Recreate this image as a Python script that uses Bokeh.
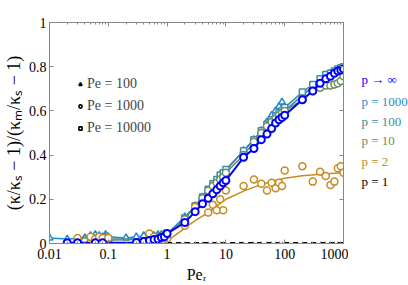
from bokeh.plotting import figure
from bokeh.layouts import row
from bokeh.models import (LogAxis, LinearAxis, Legend, LegendItem, LogTicker,
                          FixedTicker, CustomJSTickFormatter)
from bokeh.core.properties import value
from bokeh.embed import file_html
from bokeh.resources import INLINE

# ---- data ----
tri_x = [0.01, 0.02, 0.04, 0.05, 0.06, 0.07, 0.08, 0.09, 0.1,
         0.2, 0.3, 0.4, 0.5, 0.6, 0.7, 0.8, 0.9, 1,
         2, 3, 4, 5, 6, 7, 8, 9, 10,
         20, 30, 40, 50, 60, 70, 80, 90, 100,
         200, 300, 400, 500, 600, 700, 800, 900, 1000]
tri_y = [0.025, 0.02, 0.025, 0.035, 0.04, 0.035, 0.03, 0.04, 0.03,
         0.025, 0.03, 0.035, 0.03, 0.035, 0.04, 0.04, 0.045, 0.045,
         0.12, 0.17, 0.21, 0.24, 0.265, 0.285, 0.30, 0.315, 0.33,
         0.42, 0.47, 0.51, 0.55, 0.58, 0.60, 0.62, 0.64, 0.60,
         0.67, 0.71, 0.74, 0.76, 0.77, 0.78, 0.785, 0.79, 0.795]

sq_x = [0.04, 0.05, 0.06, 0.07, 0.08, 0.09, 0.1,
        0.5, 0.6, 0.7, 0.8, 0.9, 1,
        2, 3, 4, 5, 6, 7, 8, 9, 10,
        20, 30, 40, 50, 60, 70, 80, 90, 100,
        200, 300, 400, 500, 600, 700, 800, 900, 1000]
sq_y = [0.015, 0.02, 0.025, 0.02, 0.03, 0.02, 0.02,
        0.02, 0.025, 0.03, 0.03, 0.035, 0.04,
        0.115, 0.17, 0.21, 0.245, 0.27, 0.29, 0.31, 0.32, 0.335,
        0.42, 0.47, 0.51, 0.54, 0.56, 0.575, 0.59, 0.60, 0.615,
        0.685, 0.72, 0.745, 0.765, 0.77, 0.78, 0.79, 0.795, 0.80]

gr_x = [0.03, 0.04, 0.05, 0.06, 0.07, 0.08, 0.1,
        0.5, 0.6, 0.7, 0.8, 0.9, 1,
        2, 3, 4, 5, 6, 7, 8, 9, 10,
        20, 30, 40, 50, 60, 70, 80, 90, 100,
        200, 300, 400, 500, 600, 700, 800, 900, 1000]
gr_y = [0.01, 0.01, 0.005, 0.02, 0.01, 0.015, 0.015,
        0.02, 0.025, 0.03, 0.03, 0.035, 0.04,
        0.11, 0.17, 0.205, 0.24, 0.26, 0.275, 0.29, 0.30, 0.32,
        0.40, 0.46, 0.50, 0.53, 0.55, 0.565, 0.58, 0.59, 0.60,
        0.65, 0.69, 0.705, 0.715, 0.715, 0.72, 0.725, 0.735, 0.757]

or_x = [0.03, 0.05, 0.06, 0.07, 0.08, 0.1,
        0.5, 0.6, 0.7, 0.8, 0.9, 1,
        2, 3, 5, 6, 7, 8, 9, 10,
        20, 30, 40, 50, 60, 70, 80, 90, 100,
        200, 300, 400, 500, 600, 700, 800, 900, 1000]
or_y = [0.025, 0.03, 0.02, 0.03, 0.025, 0.025,
        0.045, 0.03, 0.01, 0.01, 0.015, 0.02,
        0.08, 0.165, 0.14, 0.175, 0.15, 0.2, 0.15, 0.24,
        0.26, 0.29, 0.27, 0.24, 0.275, 0.25, 0.275, 0.26, 0.33,
        0.35, 0.28, 0.325, 0.305, 0.265, 0.28, 0.34, 0.35, 0.32]

fit_x = [0.9, 1, 1.5, 2, 3, 5, 7, 10, 20, 30, 50, 100, 200, 500, 1000]
fit_y = [0.0, 0.012, 0.045, 0.07, 0.103, 0.14, 0.17, 0.2, 0.237, 0.255, 0.275,
         0.295, 0.307, 0.316, 0.32]

bl_x = [0.02, 0.03, 0.06, 0.08,
        0.3, 0.4, 0.5, 0.6, 0.7, 0.8, 0.9, 1,
        2, 3, 4, 5, 6, 7, 8, 9, 10,
        20, 30, 40, 50, 60, 70, 80, 90, 100,
        200, 300, 400, 500, 600, 700, 800, 900, 1000]
bl_y = [0.003, 0.003, 0.003, 0.003,
        0.005, 0.009, 0.014, 0.018, 0.02, 0.027, 0.03, 0.045,
        0.095, 0.144, 0.18, 0.205, 0.225, 0.243, 0.26, 0.275, 0.285,
        0.39, 0.43, 0.47, 0.495, 0.52, 0.545, 0.56, 0.57, 0.58,
        0.65, 0.69, 0.725, 0.745, 0.757, 0.77, 0.78, 0.785, 0.79]

one_x = [1, 1000]
one_y = [0.004, 0.004]

legend_labels = ["Pe = 100", "Pe = 1000", "Pe = 10000"]
p_labels = ["p \u2192 \u221e", "p = 1000", "p = 100", "p = 10", "p = 2", "p = 1"]
p_label_y = [0.743, 0.644, 0.554, 0.464, 0.369, 0.279]

C_INF = "#0000ff"
C_1000 = "#1e8cd2"
C_100 = "#3c8ca0"
C_10 = "#6e8c64"
C_2 = "#c88c1e"
C_1 = "#000000"
p_colors = [C_INF, C_1000, C_100, C_10, C_2, C_1]

SERIF = "Liberation Serif"
AX = "#888888"
TOP, BOTTOM = 22, 41

p = figure(width=348, height=285, x_axis_type="log", x_range=(0.01, 1000), y_range=(0, 1),
           output_backend="svg", toolbar_location=None,
           min_border_left=48, min_border_right=5, min_border_top=TOP, min_border_bottom=BOTTOM)
p.xgrid.visible = False
p.ygrid.visible = False
p.outline_line_color = AX
p.background_fill_color = "white"

xfmt = CustomJSTickFormatter(code="return tick >= 1 ? tick.toFixed(0) : tick.toPrecision(1);")
yfmt = CustomJSTickFormatter(code="return String(+tick.toFixed(1));")

xa = p.xaxis[0]
xa.ticker = LogTicker(num_minor_ticks=10)
xa.formatter = xfmt
xa.axis_label = "Pe\u1d63"
ya = p.yaxis[0]
ya.ticker = FixedTicker(ticks=[0, 0.2, 0.4, 0.6, 0.8, 1.0])
ya.formatter = yfmt
ya.axis_label = "(\u03ba/\u03ba\u209b \u2212 1)/(\u03ba\u2098/\u03ba\u209b \u2212 1)"

top = LogAxis(ticker=LogTicker(num_minor_ticks=10), major_label_text_font_size="1px",
              major_label_text_color=None, major_label_standoff=0)
right = LinearAxis(ticker=FixedTicker(ticks=[0, 0.2, 0.4, 0.6, 0.8, 1.0]),
                   major_label_text_font_size="1px", major_label_text_color=None,
                   major_label_standoff=0)
p.add_layout(top, "above")
p.add_layout(right, "right")

for ax in [xa, ya, top, right]:
    ax.axis_line_color = AX
    ax.major_tick_line_color = AX
    ax.minor_tick_line_color = AX
    ax.major_tick_in = 4
    ax.major_tick_out = 0
    ax.minor_tick_in = 2
    ax.minor_tick_out = 0
for ax in [xa, ya]:
    ax.major_label_text_font = SERIF
    ax.major_label_text_font_size = "14px"
    ax.major_label_text_color = "black"
    ax.axis_label_text_font = SERIF
    ax.axis_label_text_font_style = "normal"
    ax.axis_label_text_color = "black"
xa.major_label_standoff = 5
ya.major_label_standoff = 3
xa.axis_label_text_font_size = "16px"
xa.axis_label_standoff = 4
ya.axis_label_text_font_size = "18px"
ya.axis_label_standoff = 2

# ---- series ----
p.line(tri_x, tri_y, line_color=C_1000, line_width=1.5)
p.scatter(tri_x, tri_y, marker="triangle", size=7, line_color=C_1000, fill_color="white", line_width=1.5)
p.line(sq_x, sq_y, line_color=C_100, line_width=1.5)
p.scatter(sq_x, sq_y, marker="square", size=6, line_color=C_100, fill_color="white", line_width=1.5)
p.line(gr_x, gr_y, line_color=C_10, line_width=1.5)
p.scatter(gr_x, gr_y, marker="circle", size=7, line_color=C_10, fill_color="white", line_width=1.5)
p.line(fit_x, fit_y, line_color=C_2, line_width=1.5)
p.scatter(or_x, or_y, marker="circle", size=7, line_color=C_2, fill_color="white", line_width=1.5)
p.line(one_x, one_y, line_color=C_1, line_width=1.3, line_dash="5 4")
p.line(bl_x, bl_y, line_color=C_INF, line_width=2)
p.scatter(bl_x, bl_y, marker="circle", size=7, line_color=C_INF, fill_color="white", line_width=2)

# ---- legend (marker shapes) ----
lg_tri = p.scatter([1], [-1], marker="triangle", size=8, line_color="black", fill_color="white", line_width=1.6)
lg_cir = p.scatter([1], [-1], marker="circle", size=7, line_color="black", fill_color="white", line_width=1.6)
lg_sq = p.scatter([1], [-1], marker="square", size=7, line_color="black", fill_color="white", line_width=1.6)
legend = Legend(items=[LegendItem(label=legend_labels[0], renderers=[lg_tri]),
                       LegendItem(label=legend_labels[1], renderers=[lg_cir]),
                       LegendItem(label=legend_labels[2], renderers=[lg_sq])],
                location=(27, 107), padding=0, margin=0, spacing=6,
                glyph_width=8, glyph_height=14, label_height=14, label_standoff=3,
                label_text_font=SERIF, label_text_font_size="14px",
                background_fill_alpha=0, border_line_alpha=0)
p.add_layout(legend, "center")

# ---- right-hand p labels (separate narrow panel) ----
p2 = figure(width=60, height=285, x_range=(0, 1), y_range=(0, 1),
            output_backend="svg", toolbar_location=None,
            x_axis_location=None, y_axis_location=None,
            min_border_left=0, min_border_right=0, min_border_top=TOP, min_border_bottom=BOTTOM)
p2.xgrid.visible = False
p2.ygrid.visible = False
p2.outline_line_color = None
p2.text(x=[0] * len(p_labels), y=p_label_y, text=p_labels, text_color=p_colors,
        x_offset=13, text_font=value(SERIF), text_font_size="13px",
        text_baseline="middle", text_align="left")

layout = row(p, p2)
open("out.html", "w").write(file_html(layout, INLINE))
